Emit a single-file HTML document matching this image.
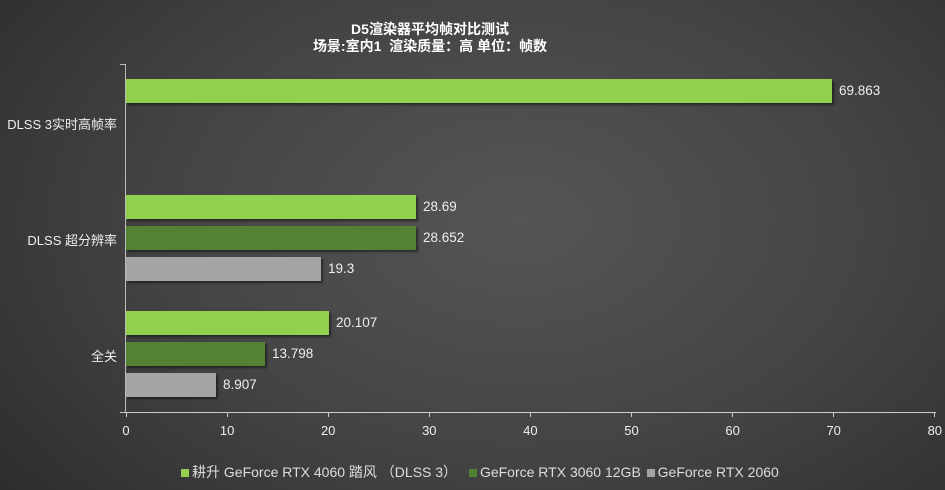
<!DOCTYPE html>
<html><head><meta charset="utf-8"><style>
body{margin:0;width:945px;height:490px;overflow:hidden;font-family:"Liberation Sans","Noto Sans CJK SC",sans-serif;}
.bg{position:absolute;left:0;top:0;width:945px;height:490px;background:radial-gradient(ellipse 75% 95% at 55% 45%,#555 0%,#444 50%,#2a2a2a 100%);}
.t{position:absolute;color:#eee;font-size:13px;white-space:nowrap}
.bar{position:absolute;left:126px;height:24px;box-shadow:2px 2px 2px rgba(0,0,0,.45)}
.g{background:#92d050}.d{background:#548235}.s{background:#a5a5a5}
</style></head><body><div class="bg"></div>
<div class="t" style="left:130px;width:600px;text-align:center;top:21px;font-weight:bold;font-size:14px;color:#fff;line-height:17px">D5渲染器平均帧对比测试<br>场景:室内1&nbsp; 渲染质量：高 单位：帧数</div>
<div style="position:absolute;left:125px;top:64px;width:1px;height:348px;background:#bbb"></div>
<div style="position:absolute;left:120px;top:64px;width:6px;height:1px;background:#bbb"></div>
<div style="position:absolute;left:120px;top:412px;width:816px;height:1px;background:#ccc"></div>
<div class="bar g" style="top:79px;width:706px"></div>
<div class="bar g" style="top:195px;width:290px"></div>
<div class="bar d" style="top:226px;width:290px"></div>
<div class="bar s" style="top:257px;width:195px"></div>
<div class="bar g" style="top:311px;width:203px"></div>
<div class="bar d" style="top:342px;width:139px"></div>
<div class="bar s" style="top:373px;width:90px"></div>
<div class="t" style="left:839px;top:83px;font-size:13.5px">69.863</div>
<div class="t" style="left:423px;top:199px;font-size:13.5px">28.69</div>
<div class="t" style="left:423px;top:230px;font-size:13.5px">28.652</div>
<div class="t" style="left:328px;top:261px;font-size:13.5px">19.3</div>
<div class="t" style="left:336px;top:315px;font-size:13.5px">20.107</div>
<div class="t" style="left:272px;top:346px;font-size:13.5px">13.798</div>
<div class="t" style="left:223px;top:377px;font-size:13.5px">8.907</div>
<div class="t" style="right:828px;top:114px">DLSS 3实时高帧率</div>
<div class="t" style="right:828px;top:230px">DLSS 超分辨率</div>
<div class="t" style="right:828px;top:346px">全关</div>
<div id="ticks"></div>
<script>
var h='';for(var i=0;i<=8;i++){var x=126+i*101.1;h+='<div style="position:absolute;left:'+(x-0.5)+'px;top:412px;width:1px;height:5px;background:#ccc"></div><div class="t" style="left:'+(x-20)+'px;width:40px;text-align:center;top:423px">'+(i*10)+'</div>';}
document.getElementById('ticks').innerHTML=h;
</script>
<div class="t" style="left:181px;top:462px;font-size:14px;color:#ddd">
<span style="display:inline-block;width:8px;height:8px;background:#92d050;margin-right:3px"></span>耕升 GeForce RTX 4060 踏风 （DLSS 3）
<span style="display:inline-block;width:8px;height:8px;background:#548235;margin:0 3px 0 8px"></span>GeForce RTX 3060 12GB
<span style="display:inline-block;width:8px;height:8px;background:#a5a5a5;margin:0 3px 0 2px"></span>GeForce RTX 2060</div>
</body></html>
